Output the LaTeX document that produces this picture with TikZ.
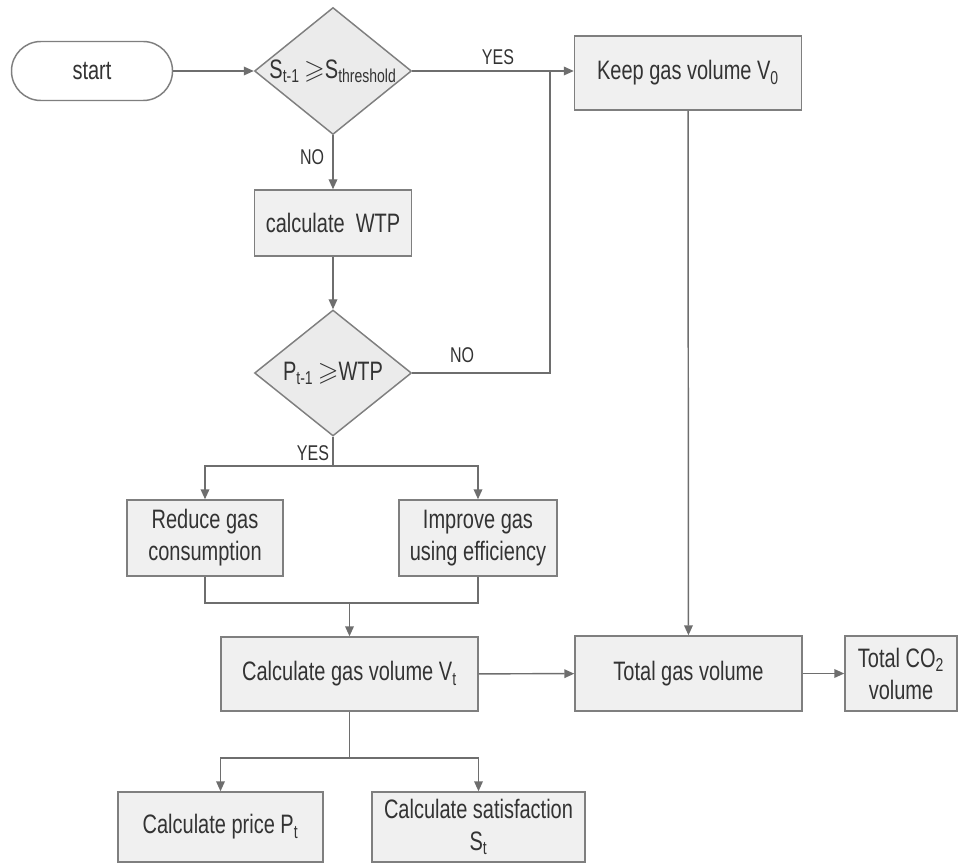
\documentclass[tikz,border=0pt]{standalone}
\usepackage{fontspec}
\setmainfont{Liberation Sans}[FakeStretch=0.75]
\usepackage{amssymb}
\usetikzlibrary{shapes.geometric,arrows.meta}
\definecolor{linegray}{HTML}{6E6E6E}
\definecolor{boxfill}{HTML}{F0F0F0}
\definecolor{diafill}{HTML}{EBEBEB}
\definecolor{boxline}{HTML}{7F7F7F}
\definecolor{ink}{HTML}{333333}
\begin{document}
\begin{tikzpicture}[x=0.75pt,y=-0.75pt,
  every node/.style={font=\fontsize{20}{24}\selectfont, text=ink},
  box/.style={draw=boxline, line width=1.1pt, fill=boxfill, inner sep=0pt, align=center},
  dia/.style={shape=diamond, draw=boxline, line width=1.1pt, fill=diafill, inner sep=0pt},
  term/.style={draw=boxline, line width=1.1pt, fill=white, rounded corners=22pt, inner sep=0pt},
  lbl/.style={font=\fontsize{16}{19}\selectfont, inner sep=0pt},
  conn/.style={draw=linegray, line width=1.1pt},
  arr/.style={conn, -{Triangle[length=7.5pt,width=6.5pt]}}
]
\useasboundingbox (0,0) rectangle (958,867);

% nodes
\node[term, minimum width=120.75pt, minimum height=44.25pt] (start) at (92,71) {start};
\node[dia, minimum width=117.75pt, minimum height=95.25pt] (d1) at (333,71) {};
\node at (d1) {S\textsubscript{t-1}\,$\geqslant$S\textsubscript{threshold}};
\node[box, minimum width=170.25pt, minimum height=55.5pt] (keep) at (688,73) {Keep gas volume V\textsubscript{0}};
\node[box, minimum width=117.75pt, minimum height=49.5pt] (wtp) at (333,223) {calculate\ \ WTP};
\node[dia, minimum width=117.75pt, minimum height=94.5pt] (d2) at (333,373) {};
\node at (d2) {P\textsubscript{t-1}\,$\geqslant$WTP};
\node[box, minimum width=117pt, minimum height=57pt] (reduce) at (205,538) {Reduce gas\\consumption};
\node[box, minimum width=118.5pt, minimum height=57pt] (improve) at (478,538) {Improve gas\\using efficiency};
\node[box, minimum width=192.75pt, minimum height=55.5pt] (calcv) at (349.5,674) {Calculate gas volume V\textsubscript{t}};
\node[box, minimum width=170.25pt, minimum height=56.25pt] (total) at (688.5,673.5) {Total gas volume};
\node[box, minimum width=84pt, minimum height=56.25pt] (co2) at (901,673.5) {Total CO\textsubscript{2}\\volume};
\node[box, minimum width=153.75pt, minimum height=52.5pt] (price) at (220.5,827) {Calculate price P\textsubscript{t}};
\node[box, minimum width=159.75pt, minimum height=52.5pt] (sat) at (478.5,827) {Calculate satisfaction\\S\textsubscript{t}};

% junction points
\coordinate (jn) at (550,71);
\coordinate (split) at (333,466);
\coordinate (merge) at (349.5,603);
\coordinate (split2) at (349.5,758);

% connectors
\draw[arr] (start) -- (d1);
\draw[arr] (d1) -- (keep.west |- d1);
\draw[arr] (d1) -- (wtp);
\draw[arr] (wtp) -- (d2);
\draw[conn] (d2.east) -| (jn);
\draw[conn] (d2.south) -- (split);
\draw[arr] (split) -| (reduce.north);
\draw[arr] (split) -| (improve.north);
\draw[conn] (reduce.south) |- (merge);
\draw[conn] (improve.south) |- (merge);
\draw[arr] (merge) -- (calcv.north);
\draw[arr] (calcv) -- (total);
\draw[arr] (keep) -- (total);
\draw[arr] (total) -- (co2);
\draw[conn] (calcv.south) -- (split2);
\draw[arr] (split2) -| (price.north);
\draw[arr] (split2) -| (sat.north);

% branch labels
\node[lbl] at (498,57) {YES};
\node[lbl] at (312,157) {NO};
\node[lbl] at (462,355) {NO};
\node[lbl] at (313,453) {YES};
\end{tikzpicture}
\end{document}
